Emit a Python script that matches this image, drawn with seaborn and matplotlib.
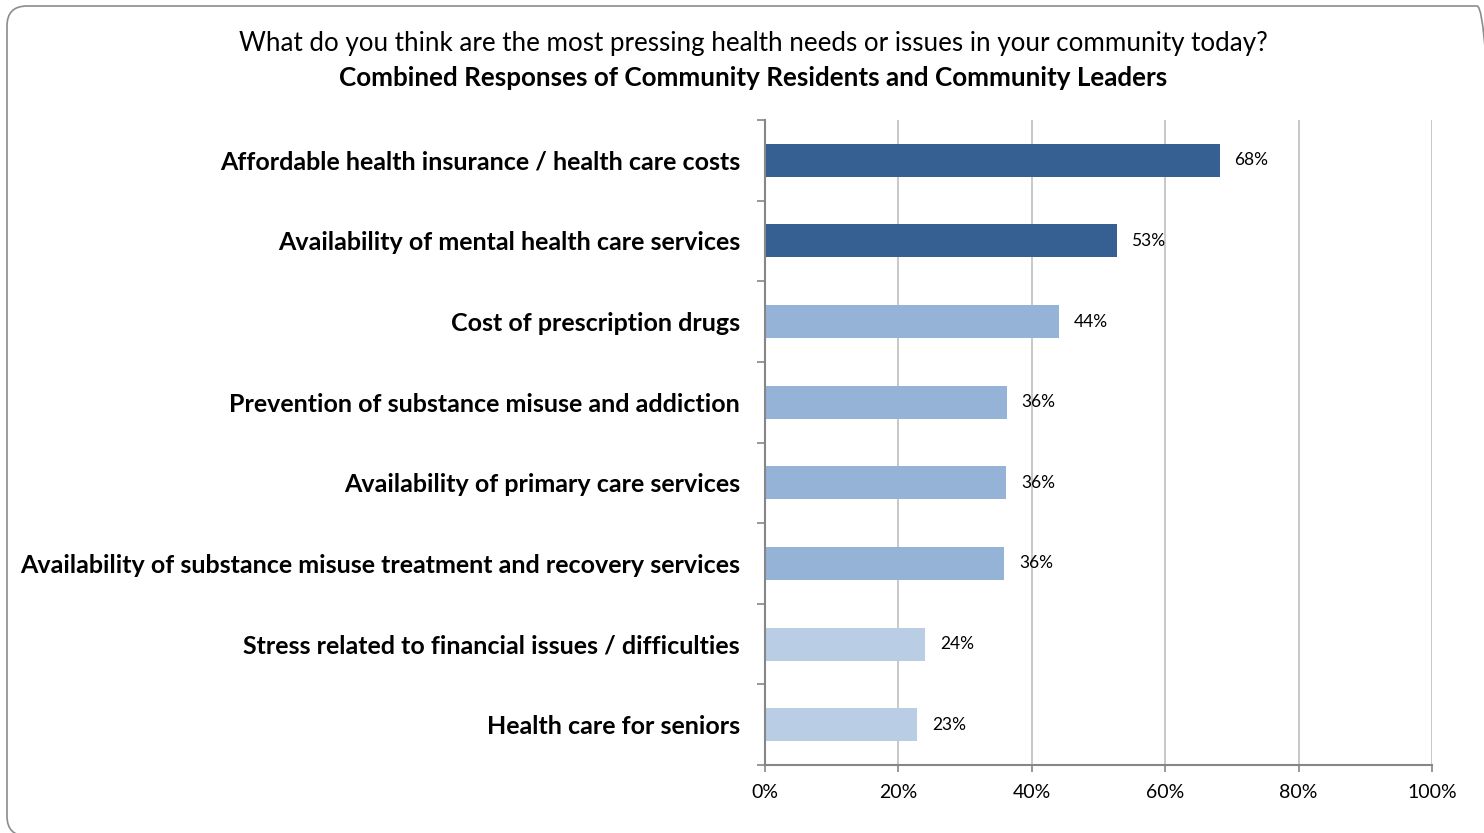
import matplotlib
matplotlib.use("Agg")
import matplotlib.pyplot as plt
import seaborn as sns
import pandas as pd
from matplotlib.patches import FancyBboxPatch
from matplotlib.ticker import FixedLocator, PercentFormatter

# Survey results
issues = [
    "Affordable health insurance / health care costs",
    "Availability of mental health care services",
    "Cost of prescription drugs",
    "Prevention of substance misuse and addiction",
    "Availability of primary care services",
    "Availability of substance misuse treatment and recovery services",
    "Stress related to financial issues / difficulties",
    "Health care for seniors",
]
shares = [68.2, 52.7, 44.1, 36.3, 36.2, 35.9, 24.0, 22.8]

# Bar shading by tier
bar_colors = ["#376092", "#376092", "#95B3D7", "#95B3D7",
              "#95B3D7", "#95B3D7", "#B9CDE5", "#B9CDE5"]

title_line1 = "What do you think are the most pressing health needs or issues in your community today?"
title_line2 = "Combined Responses of Community Residents and Community Leaders"

sns.set_theme(style="white")
plt.rcParams["font.family"] = ["Lato", "DejaVu Sans"]

df = pd.DataFrame({"issue": issues, "share": shares})

W, H = 1484, 833
fig = plt.figure(figsize=(W / 100, H / 100), dpi=100)
fig.patch.set_facecolor("white")

ax = fig.add_axes([765 / W, 1 - 765 / H, (1432 - 765) / W, (765 - 120) / H])

sns.barplot(data=df, x="share", y="issue", hue="issue", palette=bar_colors,
            legend=False, width=0.41, saturation=1, ax=ax, linewidth=0)

ax.set_xlim(0, 100)
ax.set_ylim(len(issues) - 0.5, -0.5)
ax.set_xlabel("")
ax.set_ylabel("")

# Vertical gridlines
for v in [20, 40, 60, 80, 100]:
    ax.axvline(v, color="#BFBFBF", lw=1.2, zorder=0)

ax.xaxis.set_major_locator(FixedLocator([0, 20, 40, 60, 80, 100]))
ax.xaxis.set_major_formatter(PercentFormatter(decimals=0))
ax.tick_params(axis="x", which="major", direction="out", length=5, width=1.2,
               color="#868686", labelsize=14, pad=9, labelcolor="black",
               bottom=True)

# Category boundaries marked on the y axis
ax.set_yticks(range(len(issues)))
ax.set_yticklabels(issues, fontsize=18, fontweight="bold", color="black")
ax.yaxis.set_minor_locator(FixedLocator([i - 0.5 for i in range(len(issues) + 1)]))
ax.tick_params(axis="y", which="major", length=0, pad=18)
ax.tick_params(axis="y", which="minor", direction="out", length=6, width=1.2,
               color="#868686", left=True)

for s in ["top", "right"]:
    ax.spines[s].set_visible(False)
for s in ["left", "bottom"]:
    ax.spines[s].set_color("#868686")
    ax.spines[s].set_linewidth(1.5)

# Value labels
for i, v in enumerate(shares):
    ax.text(v + 2.2, i, f"{v:.0f}%", va="center", ha="left", fontsize=12.5,
            color="black")

fig.text(753 / W, 1 - 44 / H, title_line1, ha="center", va="center",
         fontsize=18.7, color="black")
fig.text(753 / W, 1 - 78 / H, title_line2, ha="center", va="center",
         fontsize=18.7, fontweight="bold", color="black")

# Rounded frame around the slide (inches; runs off the right and bottom edges)
frame = FancyBboxPatch((0.07, -0.03), 14.90, 8.30,
                       boxstyle="round,pad=0,rounding_size=0.2",
                       transform=fig.dpi_scale_trans, facecolor="none",
                       edgecolor="#8C8C8C", linewidth=1.2, zorder=10,
                       clip_on=False)
fig.add_artist(frame)

fig.savefig("out.png", dpi=100, facecolor="white")
